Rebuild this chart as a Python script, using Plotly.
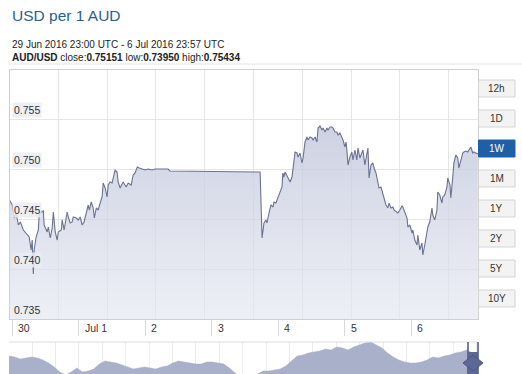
import pandas as pd
import plotly.graph_objects as go

# ---------------- data ----------------
title_text = "USD per 1 AUD"
range_text = "29 Jun 2016 23:00 UTC - 6 Jul 2016 23:57 UTC"
pair = "AUD/USD"
close_v, low_v, high_v = "0.75151", "0.73950", "0.75434"

base_time = "2016-06-30 00:00"
# hours relative to 30 Jun 2016 00:00 UTC
hours = [-1.0, 0.0, 0.7, 1.4, 2.2, 2.9, 4.0, 5.4, 6.1, 6.8, 7.2, 7.6, 7.9, 8.6, 9.4, 9.7,
         10.5, 11.2, 11.5, 12.6, 13.0, 13.7, 14.4, 14.8, 15.5, 16.2, 16.6, 17.7, 18.0, 18.7,
         19.8, 20.2, 20.9, 21.6, 22.0, 23.1, 23.8, 24.5, 25.2, 25.9, 26.7, 27.4, 27.8, 28.5,
         29.2, 29.6, 30.3, 31.0, 31.7, 32.4, 32.8, 33.5, 34.2, 34.6, 35.3, 36.0, 36.4, 37.1,
         37.8, 38.2, 38.9, 39.6, 40.0, 41.1, 41.8, 42.9, 43.6, 44.3, 45.1, 45.8, 46.9, 47.9,
         49.0, 50.5, 51.5, 52.6, 55.1, 56.2, 56.9, 89.4, 90.1, 90.8, 91.5, 91.9, 92.6, 93.3,
         94.1, 94.4, 95.1, 95.8, 96.6, 97.3, 97.6, 98.0, 98.4, 99.1, 99.5, 100.2, 100.9, 101.3,
         102.0, 102.7, 103.1, 103.8, 104.5, 104.9, 105.6, 106.3, 106.7, 107.4, 108.1, 108.5,
         109.2, 109.9, 110.3, 111.0, 111.7, 112.1, 112.8, 113.5, 113.9, 114.6, 115.3, 115.7,
         116.4, 117.1, 117.5, 118.2, 118.9, 119.3, 120.0, 120.4, 120.7, 121.1, 121.8, 122.5,
         122.9, 123.6, 124.3, 124.7, 125.4, 126.1, 126.5, 127.2, 127.9, 128.3, 128.7, 129.4,
         130.1, 130.5, 131.2, 131.9, 132.3, 133.0, 133.7, 134.1, 134.8, 135.5, 135.9, 136.6,
         137.3, 137.7, 138.4, 139.1, 139.8, 140.6, 140.9, 141.6, 142.4, 142.7, 143.4, 144.2,
         144.5, 145.2, 146.0, 146.3, 147.0, 147.8, 148.1, 148.8, 149.6, 149.9, 150.6, 151.4,
         151.7, 152.4, 153.2, 153.5, 154.2, 155.0, 155.3, 156.0, 156.8, 157.1, 157.9, 158.2,
         158.9, 159.3, 160.0, 160.7, 161.1, 161.8, 162.5, 162.9, 163.6, 164.3, 164.7, 165.4,
         166.1, 166.5, 167.2, 167.95]
rates = [0.7469, 0.7464, 0.7451, 0.7456, 0.7444, 0.7447, 0.7439, 0.7434, 0.7432, 0.7419, 0.7429,
         0.7395, 0.7419, 0.7432, 0.7439, 0.7454, 0.7457, 0.7458, 0.7444, 0.7437, 0.7442, 0.7431,
         0.7441, 0.7457, 0.7437, 0.7429, 0.7437, 0.7439, 0.7449, 0.7439, 0.7457, 0.7452, 0.7446,
         0.7447, 0.7452, 0.7451, 0.7449, 0.7452, 0.7444, 0.7447, 0.7457, 0.7464, 0.7459, 0.7467,
         0.7461, 0.7451, 0.7461, 0.7459, 0.7466, 0.7472, 0.7486, 0.7481, 0.7472, 0.7484, 0.7487,
         0.7486, 0.7491, 0.7499, 0.7497, 0.7487, 0.7481, 0.7486, 0.7487, 0.7482, 0.7486, 0.7484,
         0.7494, 0.7496, 0.7502, 0.7501, 0.7500, 0.7499, 0.7500, 0.7499, 0.7500, 0.7500, 0.7500,
         0.7500, 0.7498, 0.7497, 0.7431, 0.7446, 0.7449, 0.7446, 0.7456, 0.7464, 0.7462, 0.7467,
         0.7466, 0.7471, 0.7476, 0.7482, 0.7496, 0.7492, 0.7497, 0.7492, 0.7491, 0.7487, 0.7492,
         0.7501, 0.7517, 0.7516, 0.7512, 0.7516, 0.7506, 0.7511, 0.7527, 0.7532, 0.7529, 0.7532,
         0.7531, 0.7529, 0.7532, 0.7527, 0.7541, 0.7543, 0.7539, 0.7541, 0.7537, 0.7541, 0.7539,
         0.7542, 0.7542, 0.7541, 0.7537, 0.7537, 0.7534, 0.7536, 0.7532, 0.7529, 0.7522, 0.7527,
         0.7519, 0.7504, 0.7512, 0.7517, 0.7509, 0.7519, 0.7509, 0.7521, 0.7511, 0.7516, 0.7519,
         0.7504, 0.7516, 0.7521, 0.7491, 0.7504, 0.7506, 0.7501, 0.7496, 0.7484, 0.7481, 0.7482,
         0.7474, 0.7469, 0.7464, 0.7461, 0.7466, 0.7461, 0.7462, 0.7459, 0.7457, 0.7456, 0.7459,
         0.7463, 0.7462, 0.7457, 0.7451, 0.7442, 0.7444, 0.7436, 0.7439, 0.7429, 0.7424, 0.7434,
         0.7419, 0.7426, 0.7414, 0.7424, 0.7439, 0.7442, 0.7447, 0.7461, 0.7454, 0.7449, 0.7459,
         0.7477, 0.7474, 0.7466, 0.7472, 0.7474, 0.7482, 0.7491, 0.7484, 0.7471, 0.7492, 0.7506,
         0.7514, 0.7511, 0.7501, 0.7509, 0.7516, 0.7517, 0.7518, 0.7517, 0.7519, 0.7522, 0.7516,
         0.7517, 0.7516, 0.75151]

y_ticks = [0.735, 0.740, 0.745, 0.750, 0.755]
day_ticks = ["2016-06-30", "2016-07-01", "2016-07-02", "2016-07-03",
             "2016-07-04", "2016-07-05", "2016-07-06"]
day_labels = ["30", "Jul 1", "2", "3", "4", "5", "6"]

periods = ["12h", "1D", "1W", "1M", "1Y", "2Y", "5Y", "10Y"]
selected_period = "1W"

# navigator (longer history overview)
nav_rates = [0.736, 0.734, 0.730, 0.732, 0.734, 0.732, 0.728, 0.722, 0.714, 0.704, 0.698,
             0.704, 0.712, 0.704, 0.706, 0.710, 0.720, 0.726, 0.724, 0.722, 0.718, 0.714,
             0.710, 0.712, 0.714, 0.712, 0.710, 0.714, 0.716, 0.722, 0.726, 0.724, 0.722,
             0.720, 0.720, 0.724, 0.724, 0.722, 0.720, 0.712, 0.702, 0.696, 0.694, 0.696,
             0.700, 0.706, 0.706, 0.708, 0.710, 0.716, 0.726, 0.736, 0.738, 0.742, 0.744,
             0.746, 0.750, 0.748, 0.754, 0.752, 0.748, 0.754, 0.758, 0.762, 0.764, 0.758,
             0.752, 0.742, 0.734, 0.728, 0.724, 0.722, 0.722, 0.724, 0.728, 0.734, 0.732,
             0.736, 0.738, 0.742, 0.744, 0.748, 0.742, 0.742]

# ---------------- helpers ----------------
W, H = 522, 374
def px(x):
    return x / W
def py(y):
    return 1 - y / H

FONT = "Liberation Sans, Arial, sans-serif"
times = pd.Timestamp(base_time) + pd.to_timedelta(hours, unit="h")

fig = go.Figure()

# invisible trace to activate grid overlay axis
fig.add_trace(go.Scatter(x=[20], y=[0.74], xaxis="x2", yaxis="y", mode="markers",
                         marker=dict(opacity=0), hoverinfo="skip", showlegend=False))

fig.add_trace(go.Scatter(
    x=times, y=rates, mode="lines",
    line=dict(color="#6a7291", width=1.1),
    fill="tozeroy",
    fillgradient=dict(type="vertical", start=0.735, stop=0.7545,
                      colorscale=[[0, "rgba(228,231,241,0.65)"], [1, "rgba(192,197,218,0.8)"]]),
    hoverinfo="skip", showlegend=False, xaxis="x", yaxis="y"))

# navigator
fig.add_trace(go.Scatter(x=[31], y=[0.72], xaxis="x4", yaxis="y3", mode="markers",
                         marker=dict(opacity=0), hoverinfo="skip", showlegend=False))
fig.add_trace(go.Scatter(
    x=list(range(len(nav_rates))), y=nav_rates, mode="lines",
    line=dict(color="#a6adc7", width=0.5), fill="tozeroy", fillcolor="#a9b0c9",
    hoverinfo="skip", showlegend=False, xaxis="x3", yaxis="y3"))

annotations = []
shapes = []

# header
annotations.append(dict(x=px(10), y=py(16), xref="paper", yref="paper", xanchor="left",
                        yanchor="middle", text=title_text, showarrow=False,
                        font=dict(family=FONT, size=15.5, color="#2d5d8e")))
annotations.append(dict(x=px(10), y=py(44), xref="paper", yref="paper", xanchor="left",
                        yanchor="middle", text=range_text, showarrow=False,
                        font=dict(family=FONT, size=10, color="#222")))
annotations.append(dict(x=px(10), y=py(58), xref="paper", yref="paper", xanchor="left",
                        yanchor="middle",
                        text=f"<b>{pair}</b> close:<b>{close_v}</b> low:<b>{low_v}</b> high:<b>{high_v}</b>",
                        showarrow=False, font=dict(family=FONT, size=10, color="#222")))
shapes.append(dict(type="line", xref="paper", yref="paper", x0=px(8), x1=px(522),
                   y0=py(64), y1=py(64), line=dict(color="#e4e4e4", width=1)))

# y tick labels inside plot
for v in y_ticks:
    annotations.append(dict(x=px(12), y=v, xref="paper", yref="y", xanchor="left",
                            yanchor="bottom", yshift=1, text=f"{v:.3f}", showarrow=False,
                            bgcolor="rgba(234,236,243,0.85)", borderpad=1,
                            font=dict(family=FONT, size=10.5, color="#333")))

# x day labels
for d, lab in zip(day_ticks, day_labels):
    annotations.append(dict(x=d, y=py(328), xref="x", yref="paper", xanchor="left",
                            yanchor="middle", xshift=4, text=lab, showarrow=False,
                            font=dict(family=FONT, size=10.5, color="#333")))

# period buttons
for i, p in enumerate(periods):
    top = 80 + 30 * i
    sel = p == selected_period
    shapes.append(dict(type="rect", xref="paper", yref="paper", x0=px(478.5), x1=px(515),
                       y0=py(top + 17), y1=py(top),
                       fillcolor="#1f5fa6" if sel else "#f3f3f3",
                       line=dict(color="#1f5fa6" if sel else "#d4d4d4", width=1)))
    annotations.append(dict(x=px(496.7), y=py(top + 8.5), xref="paper", yref="paper",
                            xanchor="center", yanchor="middle", text=p, showarrow=False,
                            font=dict(family=FONT, size=10, color="#ffffff" if sel else "#333")))

# navigator frame + handle
shapes.append(dict(type="line", xref="paper", yref="paper", x0=px(9), x1=px(478),
                   y0=py(342), y1=py(342), line=dict(color="#dcdcdc", width=1)))
shapes.append(dict(type="rect", xref="paper", yref="paper", x0=px(468.5), x1=px(477.5),
                   y0=py(374), y1=py(352), fillcolor="#5c6896", line=dict(width=0)))
for hx in (468, 478):
    shapes.append(dict(type="line", xref="paper", yref="paper", x0=px(hx), x1=px(hx),
                       y0=py(342), y1=py(374), line=dict(color="#4a5582", width=1.5)))
shapes.append(dict(type="path", xref="paper", yref="paper",
                   path=f"M {px(463)},{py(363)} L {px(473)},{py(355)} L {px(483)},{py(363)} "
                        f"L {px(473)},{py(371)} Z",
                   fillcolor="#5c6896", line=dict(color="#4a5582", width=1)))

fig.update_layout(
    width=W, height=H, margin=dict(l=0, r=0, t=0, b=0),
    paper_bgcolor="white", plot_bgcolor="white", showlegend=False,
    xaxis=dict(domain=[px(9.5), px(478)], type="date",
               range=["2016-06-29 23:00", "2016-07-07 00:00"],
               showgrid=False, zeroline=False, showticklabels=False,
               tickvals=day_ticks, ticks="outside", ticklen=16, tickcolor="#d8d8d8",
               showline=True, linecolor="#d0d0d0", mirror=True, anchor="y"),
    xaxis2=dict(overlaying="x", anchor="y", range=[9.5, 478], tick0=9.5, dtick=48.8,
                showgrid=True, gridcolor="#e6e6e6", showticklabels=False, ticks="",
                zeroline=False, showline=False),
    yaxis=dict(domain=[py(319), py(70)], range=[0.735, 0.7599], tickvals=y_ticks,
               showgrid=True, gridcolor="#e6e6e6", showticklabels=False, ticks="",
               zeroline=False, showline=True, linecolor="#d0d0d0", mirror=True, anchor="x"),
    xaxis3=dict(domain=[px(9), px(478)], anchor="y3", range=[0, len(nav_rates) - 1],
                showgrid=False, showticklabels=False, ticks="", zeroline=False),
    xaxis4=dict(overlaying="x3", anchor="y3", range=[9, 478], tick0=32, dtick=23.4,
                showgrid=True, gridcolor="#ececec", showticklabels=False, ticks="",
                zeroline=False),
    yaxis3=dict(domain=[0, py(342)], range=[0.700, 0.764], showgrid=False,
                showticklabels=False, ticks="", zeroline=False, anchor="x3"),
    annotations=annotations, shapes=shapes,
)

fig.write_html("out.html")
